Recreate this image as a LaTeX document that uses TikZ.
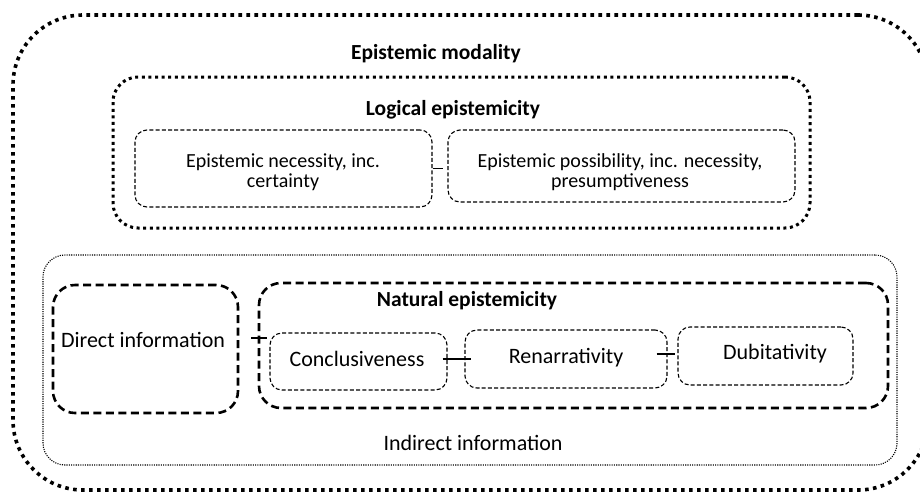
\documentclass[tikz,border=0pt]{standalone}
\usepackage{fontspec}
\setmainfont{Carlito}
\usetikzlibrary{calc}
\begin{document}
\begin{tikzpicture}[x=1pt,y=-1pt,
  box/.style={draw=black,rounded corners=#1,inner sep=0pt,anchor=center},
  bigdot/.style={line width=3.6pt,dash pattern=on 3.6pt off 4.4pt},
  middot/.style={line width=3pt,dash pattern=on 3pt off 3.6pt},
  finedot/.style={line width=1.1pt,dash pattern=on 1.1pt off 1.2pt},
  bigdash/.style={line width=2.6pt,dash pattern=on 8pt off 4.5pt},
  smalldash/.style={line width=1.1pt,dash pattern=on 4pt off 2.2pt},
  lbl/.style={inner sep=0pt,align=center,font=\fontsize{20}{20.5}\selectfont},
  biglbl/.style={inner sep=0pt,align=center,font=\fontsize{22}{26}\selectfont},
  ttl/.style={inner sep=0pt,align=center,font=\fontsize{21.5}{26}\selectfont\bfseries},
  link/.style={line width=1.2pt}]
\useasboundingbox (0,0) rectangle (920,493);
\clip (0,0) rectangle (920,493);
% outer
\node[box=70pt,bigdot,minimum width=915pt,minimum height=475pt] (outer) at (470.5,252.5) {};
\node[ttl] (tmod) at (436,54) {Epistemic modality};
% logical
\node[box=25pt,middot,minimum width=697pt,minimum height=151pt] (logic) at (461.5,152.5) {};
\node[ttl] (tlog) at (453,110) {Logical epistemicity};
\node[box=12pt,smalldash,minimum width=297pt,minimum height=77pt] (nec) at (283.5,168.5) {};
\node[lbl] (tnec) at (283,172) {Epistemic necessity, inc.\\certainty};
\node[box=12pt,smalldash,minimum width=347pt,minimum height=72pt] (pos) at (621.5,166) {};
\node[lbl] (tpos) at (620,172) {Epistemic possibility, inc. necessity,\\presumptiveness};
\draw[link] (nec.east) -- ($(pos.west)+(-4,2.5)$);
% indirect
\node[box=22pt,finedot,minimum width=854pt,minimum height=210pt] (ind) at (470,360) {};
\node[biglbl] (tind) at (473,443) {Indirect information};
% direct
\node[box=22pt,bigdash,minimum width=185pt,minimum height=128pt] (dir) at (145.5,349) {};
\node[biglbl] (tdir) at (143,340) {Direct information};
% natural
\node[box=22pt,bigdash,minimum width=629pt,minimum height=125pt] (nat) at (573.5,345.5) {};
\node[ttl] (tnat) at (467,301) {Natural epistemicity};
\node[box=12pt,smalldash,minimum width=177pt,minimum height=57pt] (con) at (358.5,361.5) {};
\node[biglbl] (tcon) at (357,359) {Conclusiveness};
\node[box=12pt,smalldash,minimum width=202pt,minimum height=58pt] (ren) at (566,359) {};
\node[biglbl] (tren) at (566,358) {Renarrativity};
\node[box=12pt,smalldash,minimum width=175pt,minimum height=58pt] (dub) at (765.5,356) {};
\node[biglbl] (tdub) at (775,354) {Dubitativity};
% links
\draw[link] ($(dir.east)+(12,-11)$) -- ($(con.west)+(-2,-23.5)$);
\draw[link] ($(con.east)+(-5,-2.5)$) -- ($(ren.west)+(7,0)$);
\draw[link] ($(ren.east)+(-11,-5)$) -- ($(dub.west)+(-2,-2)$);
\end{tikzpicture}
\end{document}
